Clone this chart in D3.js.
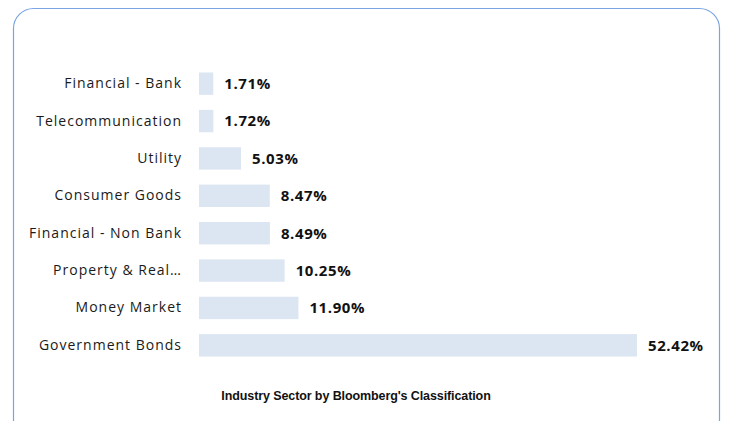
<!DOCTYPE html>
<html><head><meta charset="utf-8">
<script src="https://cdn.jsdelivr.net/npm/d3@7"></script>
<style>body{margin:0;background:#fff;}svg{display:block;}</style>
</head><body>
<script>
const categories = ["Financial - Bank","Telecommunication","Utility","Consumer Goods","Financial - Non Bank","Property & Real…","Money Market","Government Bonds"];
const values = [1.71,1.72,5.03,8.47,8.49,10.25,11.90,52.42];
const valueLabels = ["1.71%","1.72%","5.03%","8.47%","8.49%","10.25%","11.90%","52.42%"];
const title = "Industry Sector by Bloomberg's Classification";

const W=729,H=421;
const svg=d3.select("body").append("svg").attr("width",W).attr("height",H);
svg.append("rect").attr("x",13.5).attr("y",8.5).attr("width",706).attr("height",440)
  .attr("rx",20).attr("ry",20).attr("fill","#fff").attr("stroke","#7aa5e3").attr("stroke-width",1.2);

const x=d3.scaleLinear().domain([0,52.42]).range([199,637]);
const y=d3.scaleBand().domain(categories).range([65,364]).paddingInner(0.4).paddingOuter(0.2);

svg.selectAll("rect.bar").data(values).enter().append("rect").attr("class","bar")
  .attr("x",x(0)).attr("y",(d,i)=>y(categories[i])).attr("width",d=>x(d)-x(0)).attr("height",y.bandwidth())
  .attr("fill","#dce6f2");

const ax=d3.axisLeft(y).tickSize(0).tickPadding(17);
const g=svg.append("g").attr("transform",`translate(${x(0)},0)`).call(ax);
g.select(".domain").remove();
g.selectAll("text").attr("font-family","'Open Sans', sans-serif").attr("font-size",14)
  .attr("letter-spacing",1).attr("fill","#1a1a1a");

svg.selectAll("text.val").data(values).enter().append("text").attr("class","val")
  .attr("x",d=>x(d)+11).attr("y",(d,i)=>y(categories[i])+y.bandwidth()/2).attr("dy","0.36em")
  .attr("font-family","'Open Sans', sans-serif").attr("font-weight","bold").attr("font-size",15)
  .attr("letter-spacing",0.6).attr("fill","#111")
  .text((d,i)=>valueLabels[i]);

svg.append("text").attr("x",356).attr("y",400).attr("text-anchor","middle")
  .attr("font-family","'Liberation Sans', Arial, sans-serif").attr("font-weight","bold").attr("font-size",12.5).attr("fill","#111")
  .attr("letter-spacing",-0.1).text(title);
</script>
</body></html>
